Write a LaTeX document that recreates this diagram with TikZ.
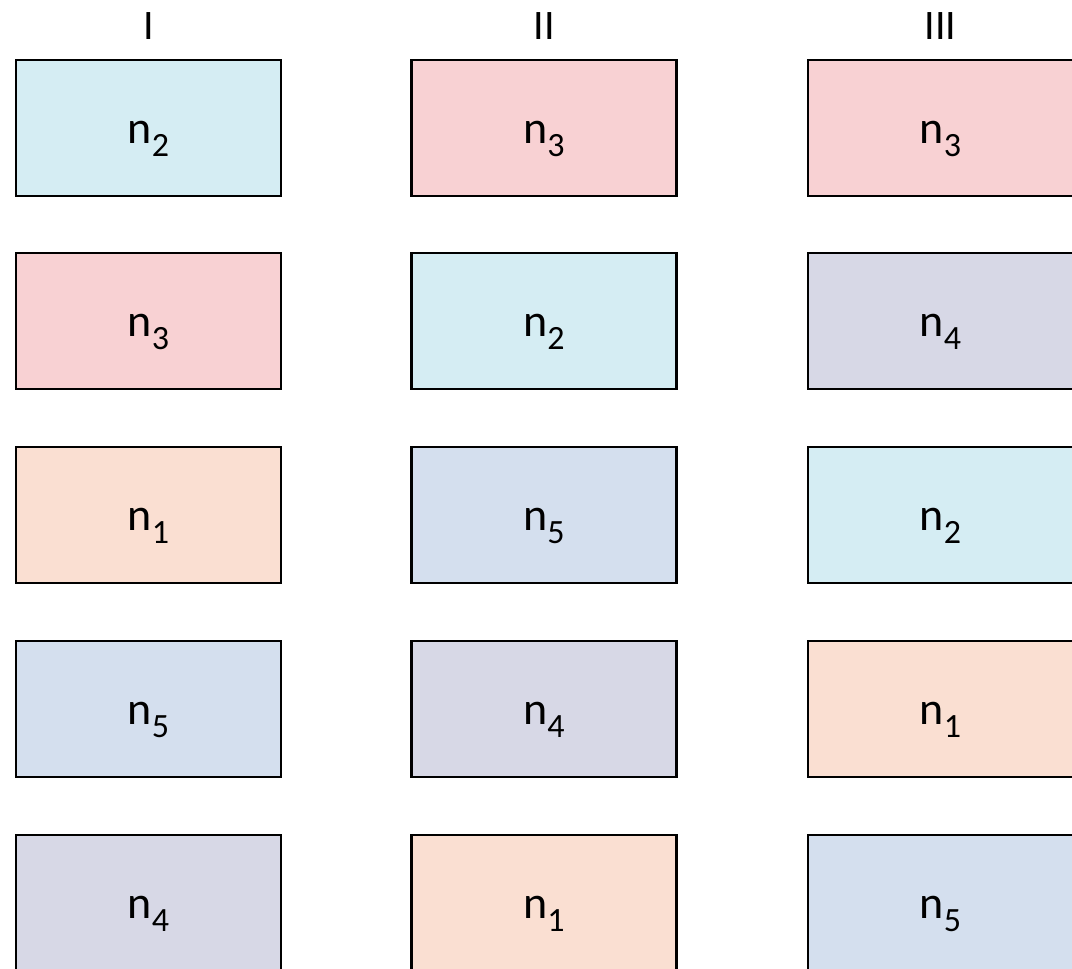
\documentclass[tikz,border=0pt]{standalone}
\usepackage{fontspec}
\setmainfont{Carlito}
\definecolor{cyanc}{HTML}{D5EDF3}
\definecolor{pinkc}{HTML}{F8D1D3}
\definecolor{orangec}{HTML}{FADFD2}
\definecolor{bluec}{HTML}{D4DFEE}
\definecolor{grayc}{HTML}{D7D8E6}
\newcommand{\nsub}[1]{n\raisebox{-13pt}{\fontsize{34}{34}\selectfont #1}}
\tikzset{
  cell/.style={draw=black, line width=2.2pt, rectangle, minimum width=265pt, minimum height=136pt, inner sep=0pt},
  lab/.style={anchor=base, inner sep=0pt, font=\fontsize{46}{46}\selectfont},
  head/.style={anchor=base, inner sep=0pt, font=\fontsize{42}{42}\selectfont}
}
\begin{document}
\begin{tikzpicture}[x=1pt,y=-1pt]
\clip (0,0) rectangle (1072,969);
\fill[white] (0,0) rectangle (1072,969);
\node[head] (h1) at (148.5,39) {I};
\node[head] (h2) at (544,39) {II};
\node[head] (h3) at (940.5,39) {III};
% column I
\node[cell, fill=cyanc]   (a1) at (148.5,128) {};
\node[cell, fill=pinkc]   (a2) at (148.5,321) {};
\node[cell, fill=orangec] (a3) at (148.5,515) {};
\node[cell, fill=bluec]   (a4) at (148.5,709) {};
\node[cell, fill=grayc]   (a5) at (148.5,903) {};
% column II
\node[cell, fill=pinkc]   (b1) at (544,128) {};
\node[cell, fill=cyanc]   (b2) at (544,321) {};
\node[cell, fill=bluec]   (b3) at (544,515) {};
\node[cell, fill=grayc]   (b4) at (544,709) {};
\node[cell, fill=orangec] (b5) at (544,903) {};
% column III
\node[cell, fill=pinkc]   (c1) at (940.5,128) {};
\node[cell, fill=grayc]   (c2) at (940.5,321) {};
\node[cell, fill=cyanc]   (c3) at (940.5,515) {};
\node[cell, fill=orangec] (c4) at (940.5,709) {};
\node[cell, fill=bluec]   (c5) at (940.5,903) {};
% labels
\node[lab] (ta1) at (148.5,143) {\nsub{2}};
\node[lab] (ta2) at (148.5,336) {\nsub{3}};
\node[lab] (ta3) at (148.5,530) {\nsub{1}};
\node[lab] (ta4) at (148.5,724) {\nsub{5}};
\node[lab] (ta5) at (148.5,918) {\nsub{4}};
\node[lab] (tb1) at (544,143) {\nsub{3}};
\node[lab] (tb2) at (544,336) {\nsub{2}};
\node[lab] (tb3) at (544,530) {\nsub{5}};
\node[lab] (tb4) at (544,724) {\nsub{4}};
\node[lab] (tb5) at (544,918) {\nsub{1}};
\node[lab] (tc1) at (940.5,143) {\nsub{3}};
\node[lab] (tc2) at (940.5,336) {\nsub{4}};
\node[lab] (tc3) at (940.5,530) {\nsub{2}};
\node[lab] (tc4) at (940.5,724) {\nsub{1}};
\node[lab] (tc5) at (940.5,918) {\nsub{5}};
\end{tikzpicture}
\end{document}
